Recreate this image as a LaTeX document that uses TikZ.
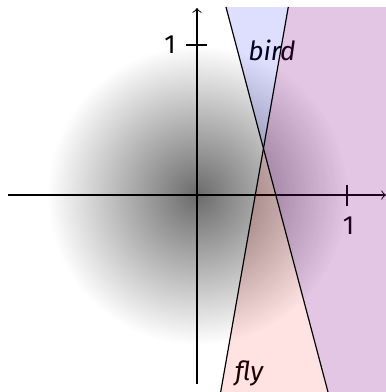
\documentclass[tikz,border=0pt]{standalone}
\usepackage{fontspec}
\setmainfont{Fira Sans}
\begin{document}
\begin{tikzpicture}[x=2cm,y=2cm,
  axis/.style={->, line width=0.4pt},
  tickmark/.style={line width=0.5pt},
  regionlabel/.style={font=\itshape},
  halfA/.style={fill=blue, fill opacity=0.13},
  halfB/.style={fill=red, fill opacity=0.11},
  sep/.style={line width=0.45pt}]
\useasboundingbox (-1.3133,-1.3133) rectangle (1.26,1.3);
\shade[inner color=black!58, outer color=white] (0,0) circle (1.0);
% labels (under the transparent fills)
\node[regionlabel] (bird) at (0.5,0.967) {bird};
\node[regionlabel] (fly) at (0.347,-1.187) {fly};
% axes
\coordinate (xs) at (-1.26,0);
\coordinate (xe) at (1.26,0);
\coordinate (ys) at (0,-1.26);
\coordinate (ye) at (0,1.2467);
\draw[axis] (xs) -- (xe);
\draw[axis] (ys) -- (ye);
\coordinate (xt1) at (1,0.07);
\coordinate (xt2) at (1,-0.07);
\coordinate (yt1) at (-0.07,1);
\coordinate (yt2) at (0.07,1);
\draw[tickmark] (xt1) -- (xt2);
\draw[tickmark] (yt1) -- (yt2);
\node (xl) at (1.01,-0.207) {1};
\node (yl) at (-0.18,1.0) {1};
% half planes
\coordinate (At) at (0.1933,1.2533);
\coordinate (Ab) at (0.8733,-1.3133);
\coordinate (Bt) at (0.6087,1.2533);
\coordinate (Bb) at (0.158,-1.3133);
\coordinate (TR) at (1.26,1.2533);
\coordinate (BR) at (1.26,-1.3133);
\fill[halfA] (At) -- (TR) -- (BR) -- (Ab) -- cycle;
\fill[halfB] (Bt) -- (TR) -- (BR) -- (Bb) -- cycle;
\draw[sep] (At) -- (Ab);
\draw[sep] (Bt) -- (Bb);
\end{tikzpicture}
\end{document}
